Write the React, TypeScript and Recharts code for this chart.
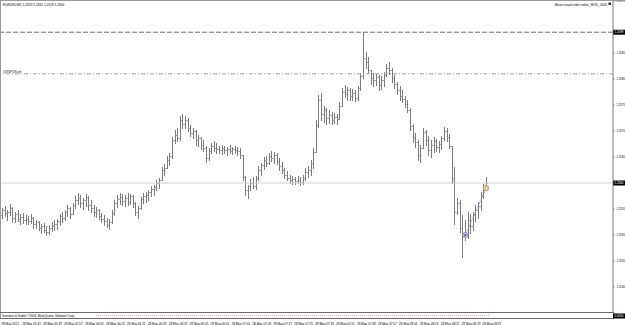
import React from 'react';
import { ComposedChart, Bar, XAxis, YAxis, ReferenceLine, ReferenceDot } from 'recharts';

const symbolHeader = 'EURUSD,M1  1.2559 1.2561 1.2559 1.2560';
const expertName = 'Moon visual order editor_MOD_0000';
const refLineName = '#0T6P1R.ref';
const indicatorName = 'Investors & Stable ©2004, MetaQuotes Software Corp.';

const tickLabels = [
  '28 May 2012', '28 May 05:41', '28 May 05:49', '28 May 05:57', '28 May 06:05', '28 May 06:13',
  '28 May 06:21', '28 May 06:29', '28 May 06:37', '28 May 06:45', '28 May 06:53', '28 May 07:01',
  '28 May 07:09', '28 May 07:17', '28 May 07:25', '28 May 07:33', '28 May 07:41', '28 May 07:49',
  '28 May 07:57', '28 May 08:05', '28 May 08:13', '28 May 08:21', '28 May 08:29', '28 May 08:37',
];
const tickBars = [0, 8, 16, 24, 32, 40, 48, 56, 64, 72, 80, 88, 96, 104, 112, 120, 128, 136, 144, 152, 160, 168, 176, 184];

const priceTicks = [1.254, 1.2545, 1.255, 1.2555, 1.2565, 1.257, 1.2575, 1.258, 1.2585, 1.2595];
const priceDomain = [1.25352, 1.2595];

const highLevel = 1.2589;
const refLevel = 1.2581;
const bidLevel = 1.256;
const indicatorValue = '0.0000';

const trendStart = { bar: 177, price: 1.255 };
const trendEnd = { bar: 185, price: 1.2559 };

// [open, high, low, close] per M1 bar
const ohlc: [number, number, number, number][] = [
  [1.25539, 1.25552, 1.25533, 1.25548], [1.25548, 1.25556, 1.25537, 1.25542], [1.25542, 1.25548, 1.25529, 1.25544],
  [1.25544, 1.2556, 1.25539, 1.25552], [1.25552, 1.25554, 1.25525, 1.25533], [1.25533, 1.25544, 1.25525, 1.2554],
  [1.2554, 1.25548, 1.25527, 1.25531], [1.25531, 1.2554, 1.25521, 1.25535], [1.25535, 1.25542, 1.25523, 1.25529],
  [1.25529, 1.25539, 1.25521, 1.25531], [1.25531, 1.25537, 1.25521, 1.25527], [1.25527, 1.2554, 1.25523, 1.25533],
  [1.25533, 1.25535, 1.25514, 1.25521], [1.25521, 1.25529, 1.25514, 1.25525], [1.25525, 1.25527, 1.2551, 1.25514],
  [1.25514, 1.25521, 1.25504, 1.25517], [1.25517, 1.25523, 1.25506, 1.2551], [1.2551, 1.25517, 1.255, 1.25506],
  [1.25506, 1.25519, 1.25502, 1.25514], [1.25514, 1.25525, 1.25508, 1.25517], [1.25517, 1.25529, 1.2551, 1.25521],
  [1.25521, 1.25531, 1.25512, 1.25527], [1.25527, 1.2554, 1.25519, 1.25537], [1.25537, 1.25544, 1.25525, 1.25533],
  [1.25533, 1.25548, 1.25529, 1.25544], [1.25544, 1.25558, 1.25537, 1.25552], [1.25552, 1.25554, 1.25533, 1.2554],
  [1.2554, 1.25562, 1.2554, 1.25558], [1.25558, 1.25575, 1.25552, 1.25567], [1.25567, 1.25581, 1.2556, 1.25571],
  [1.25571, 1.25577, 1.25554, 1.25562], [1.25562, 1.25571, 1.2555, 1.25567], [1.25567, 1.25579, 1.25556, 1.25573],
  [1.25573, 1.25575, 1.25548, 1.25558], [1.25558, 1.25567, 1.25544, 1.25552], [1.25552, 1.25558, 1.25537, 1.25544],
  [1.25544, 1.25554, 1.25535, 1.25548], [1.25548, 1.2555, 1.25531, 1.25537], [1.25537, 1.25542, 1.25525, 1.25531],
  [1.25531, 1.25539, 1.25519, 1.25527], [1.25527, 1.25533, 1.25515, 1.25519], [1.25519, 1.25531, 1.25512, 1.25525],
  [1.25525, 1.25548, 1.25523, 1.25542], [1.25542, 1.25567, 1.25539, 1.25562], [1.25562, 1.25577, 1.25554, 1.25569],
  [1.25569, 1.25581, 1.2556, 1.25573], [1.25573, 1.25579, 1.25558, 1.25565], [1.25565, 1.25577, 1.25556, 1.25571],
  [1.25571, 1.25581, 1.25558, 1.25564], [1.25564, 1.25579, 1.2556, 1.25575], [1.25575, 1.25577, 1.25554, 1.25562],
  [1.25562, 1.25564, 1.25539, 1.25544], [1.25544, 1.25556, 1.25533, 1.25552], [1.25552, 1.25573, 1.2555, 1.25569],
  [1.25569, 1.25581, 1.25562, 1.25575], [1.25575, 1.25583, 1.25564, 1.25577], [1.25577, 1.25587, 1.25567, 1.25583],
  [1.25583, 1.25594, 1.25575, 1.25589], [1.25589, 1.25596, 1.25577, 1.25592], [1.25592, 1.25606, 1.25587, 1.256],
  [1.256, 1.2561, 1.2559, 1.25606], [1.25606, 1.25631, 1.25606, 1.25625], [1.25625, 1.25637, 1.25615, 1.25629],
  [1.25629, 1.25652, 1.25629, 1.25644], [1.25644, 1.25658, 1.25635, 1.25652], [1.25652, 1.25689, 1.25648, 1.25683],
  [1.25683, 1.25702, 1.25677, 1.25692], [1.25692, 1.25706, 1.25681, 1.25687], [1.25687, 1.25729, 1.25683, 1.25721],
  [1.25721, 1.25733, 1.25706, 1.25714], [1.25714, 1.25729, 1.25706, 1.25721], [1.25721, 1.25725, 1.257, 1.25706],
  [1.25706, 1.25712, 1.2569, 1.25696], [1.25696, 1.25706, 1.25687, 1.257], [1.257, 1.25702, 1.25673, 1.25683],
  [1.25683, 1.25692, 1.25671, 1.25687], [1.25687, 1.25689, 1.25665, 1.25673], [1.25673, 1.25683, 1.25662, 1.25667],
  [1.25667, 1.25671, 1.2564, 1.25648], [1.25648, 1.25667, 1.25644, 1.25662], [1.25662, 1.25677, 1.25658, 1.25671],
  [1.25671, 1.25681, 1.25662, 1.25667], [1.25667, 1.25677, 1.25658, 1.25665], [1.25665, 1.25671, 1.25658, 1.25664],
  [1.25664, 1.25673, 1.25656, 1.25667], [1.25667, 1.25671, 1.25658, 1.25664], [1.25664, 1.25669, 1.25654, 1.25665],
  [1.25665, 1.25673, 1.25658, 1.25662], [1.25662, 1.25669, 1.25656, 1.25665], [1.25665, 1.25671, 1.25658, 1.25664],
  [1.25664, 1.25669, 1.25654, 1.25662], [1.25662, 1.25667, 1.25648, 1.25654], [1.25654, 1.25654, 1.25606, 1.25612],
  [1.25612, 1.25613, 1.25577, 1.25587], [1.25587, 1.25596, 1.25571, 1.25594], [1.25594, 1.25608, 1.25587, 1.256],
  [1.256, 1.25612, 1.2559, 1.25594], [1.25594, 1.25613, 1.25589, 1.2561], [1.2561, 1.25633, 1.25606, 1.25625],
  [1.25625, 1.25639, 1.25615, 1.25635], [1.25635, 1.2565, 1.25627, 1.25644], [1.25644, 1.25652, 1.25633, 1.25639],
  [1.25639, 1.25658, 1.25637, 1.25652], [1.25652, 1.25662, 1.25642, 1.25648], [1.25648, 1.2566, 1.25639, 1.25654],
  [1.25654, 1.25658, 1.25637, 1.25642], [1.25642, 1.25648, 1.25625, 1.25633], [1.25633, 1.2564, 1.25619, 1.25625],
  [1.25625, 1.25629, 1.2561, 1.25615], [1.25615, 1.25623, 1.25606, 1.2561], [1.2561, 1.25615, 1.256, 1.25606],
  [1.25606, 1.25613, 1.25598, 1.25608], [1.25608, 1.25612, 1.25598, 1.25604], [1.25604, 1.25613, 1.256, 1.25606],
  [1.25606, 1.25612, 1.25596, 1.25602], [1.25602, 1.25615, 1.25598, 1.2561], [1.2561, 1.25629, 1.25606, 1.25621],
  [1.25621, 1.25633, 1.25612, 1.25625], [1.25625, 1.25644, 1.25615, 1.25639], [1.25639, 1.25667, 1.25629, 1.2566],
  [1.2566, 1.25721, 1.2566, 1.25712], [1.25712, 1.25769, 1.25708, 1.2576], [1.2576, 1.25773, 1.25721, 1.25733],
  [1.25733, 1.25748, 1.25717, 1.2574], [1.2574, 1.25744, 1.25714, 1.25725], [1.25725, 1.2574, 1.25715, 1.25731],
  [1.25731, 1.25737, 1.25714, 1.25721], [1.25721, 1.25735, 1.25715, 1.25727], [1.25727, 1.25733, 1.25714, 1.25723],
  [1.25723, 1.25756, 1.25723, 1.25748], [1.25748, 1.25783, 1.25748, 1.25775], [1.25775, 1.25789, 1.25765, 1.25771],
  [1.25771, 1.25785, 1.2576, 1.25779], [1.25779, 1.25783, 1.2576, 1.25767], [1.25767, 1.25781, 1.2576, 1.25773],
  [1.25773, 1.25779, 1.25758, 1.25764], [1.25764, 1.25787, 1.2576, 1.25783], [1.25783, 1.25812, 1.25779, 1.25806],
  [1.25806, 1.2589, 1.25802, 1.2584], [1.2584, 1.25852, 1.25821, 1.25833], [1.25833, 1.25842, 1.25814, 1.25817],
  [1.25817, 1.25817, 1.2579, 1.25802], [1.25802, 1.25812, 1.25787, 1.25798], [1.25798, 1.2581, 1.25789, 1.25804],
  [1.25804, 1.25808, 1.25779, 1.25789], [1.25789, 1.25806, 1.25781, 1.25798], [1.25798, 1.25814, 1.25787, 1.25808],
  [1.25808, 1.25829, 1.25806, 1.25821], [1.25821, 1.25833, 1.2581, 1.25817], [1.25817, 1.25821, 1.25794, 1.25802],
  [1.25802, 1.25808, 1.25783, 1.2579], [1.2579, 1.25794, 1.25771, 1.25779], [1.25779, 1.25787, 1.2576, 1.25767],
  [1.25767, 1.25779, 1.25756, 1.25762], [1.25762, 1.25767, 1.25746, 1.25752], [1.25752, 1.2576, 1.25737, 1.2574],
  [1.2574, 1.25744, 1.25702, 1.2571], [1.2571, 1.25714, 1.25679, 1.25689], [1.25689, 1.25696, 1.25669, 1.25679],
  [1.25679, 1.25683, 1.25644, 1.25654], [1.25654, 1.25673, 1.2564, 1.25667], [1.25667, 1.25706, 1.25667, 1.25698],
  [1.25698, 1.25702, 1.25673, 1.25683], [1.25683, 1.2569, 1.25654, 1.25664], [1.25664, 1.25683, 1.2565, 1.25673],
  [1.25673, 1.25689, 1.2566, 1.25681], [1.25681, 1.25685, 1.25662, 1.25669], [1.25669, 1.25681, 1.2566, 1.25675],
  [1.25675, 1.2569, 1.25665, 1.25687], [1.25687, 1.25708, 1.25683, 1.257], [1.257, 1.25706, 1.25681, 1.25689],
  [1.25689, 1.25694, 1.25667, 1.25671], [1.25671, 1.25671, 1.256, 1.2561], [1.2561, 1.25631, 1.25521, 1.25544],
  [1.25544, 1.25571, 1.2554, 1.25562], [1.25562, 1.25567, 1.25506, 1.25514], [1.25514, 1.25539, 1.25458, 1.25504],
  [1.25504, 1.25529, 1.2549, 1.25498], [1.25498, 1.25544, 1.25494, 1.25529], [1.25529, 1.2554, 1.25504, 1.25517],
  [1.25517, 1.25544, 1.2551, 1.25539], [1.25539, 1.25558, 1.25527, 1.25548], [1.25548, 1.25564, 1.25533, 1.25556],
  [1.25556, 1.25583, 1.25548, 1.25577], [1.25577, 1.25598, 1.25571, 1.2559], [1.2559, 1.25612, 1.25589, 1.256],
];

const totalSlots = 234;

const data = Array.from({ length: totalSlots }, (_, i) => {
  const b = ohlc[i];
  return b
    ? { i, open: b[0], high: b[1], low: b[2], close: b[3], range: [b[2], b[1]] }
    : { i };
});

const FONT = '"Liberation Sans", Arial, sans-serif';
const BAR_COLOR = '#7c7c7c';
const TICK_COLOR = '#a8a8a8';

const OhlcShape = (props: any) => {
  const { x, y, width, height, payload } = props;
  if (!payload || payload.high == null) return null;
  const top = Math.min(y, y + height);
  const bot = Math.max(y, y + height);
  const span = payload.high - payload.low;
  const py = (v: number) => (span > 0 ? top + ((payload.high - v) / span) * (bot - top) : top);
  const px = Math.round(x + width / 2 - 0.5);
  const t = Math.round(top);
  const b = Math.round(bot);
  const oy = Math.round(py(payload.open));
  const cy = Math.round(py(payload.close));
  return (
    <g shapeRendering="crispEdges">
      <rect x={px} y={t} width={1} height={Math.max(1, b - t + 1)} fill={BAR_COLOR} />
      <rect x={px - 1} y={oy} width={1} height={1} fill={TICK_COLOR} />
      <rect x={px + 1} y={cy} width={1} height={1} fill={TICK_COLOR} />
    </g>
  );
};

const XTick = (props: any) => {
  const { x, y, payload } = props;
  const idx = tickBars.indexOf(payload.value);
  if (idx < 0) return null;
  return (
    <text x={x - 1} y={y + 11} fontSize={3.1} fontFamily={FONT} fill="#000">
      {tickLabels[idx]}
    </text>
  );
};

const YTick = (props: any) => {
  const { x, y, payload } = props;
  return (
    <text
      x={x}
      y={y + 1.2}
      fontSize={3.2}
      fontFamily={FONT}
      fill="#000"
      textLength={8.5}
      lengthAdjust="spacingAndGlyphs"
    >
      {Number(payload.value).toFixed(4)}
    </text>
  );
};

const AxisBox = (text: string) => (props: any) => {
  const vb = props.viewBox || {};
  const ax = (vb.x || 0) + (vb.width || 0);
  const yy = vb.y || 0;
  return (
    <g>
      <rect x={ax} y={yy - 2.5} width={12} height={5} fill="#000" />
      <text
        x={ax + 1.5}
        y={yy + 1.2}
        fontSize={3.2}
        fontFamily={FONT}
        fill="#fff"
        textLength={9}
        lengthAdjust="spacingAndGlyphs"
      >
        {text}
      </text>
    </g>
  );
};

export default function App() {
  return (
    <div style={{ position: 'absolute', left: 0, top: 0, width: 625, height: 325, background: '#fff' }}>
      <ComposedChart
        width={625}
        height={325}
        data={data}
        margin={{ top: 1, right: 0, bottom: 0, left: 1 }}
        barCategoryGap={0}
        barGap={0}
      >
        <XAxis
          dataKey="i"
          type="category"
          ticks={tickBars}
          interval={0}
          height={13}
          axisLine={false}
          tickLine={false}
          tickSize={0}
          tick={<XTick />}
        />
        <YAxis
          orientation="right"
          width={12}
          domain={priceDomain}
          allowDataOverflow
          ticks={priceTicks}
          interval={0}
          axisLine={{ stroke: '#7a7a7a' }}
          tickLine={{ stroke: '#7a7a7a' }}
          tickSize={1.5}
          tick={<YTick />}
        />
        <ReferenceLine y={bidLevel} stroke="#cfcfcf" strokeWidth={1} label={AxisBox(bidLevel.toFixed(4))} />
        <ReferenceLine y={highLevel} stroke="#707070" strokeWidth={1} strokeDasharray="5 2" label={AxisBox(highLevel.toFixed(4))} />
        <ReferenceLine y={refLevel} stroke="#97a897" strokeWidth={1} strokeDasharray="4 2 1 2" />
        <Bar dataKey="range" shape={<OhlcShape />} isAnimationActive={false} />
        <ReferenceLine
          segment={[{ x: trendStart.bar, y: trendStart.price }, { x: trendEnd.bar, y: trendEnd.price }]}
          stroke="#7880c8"
          strokeDasharray="1 1"
          strokeWidth={1}
        />
        <ReferenceDot x={trendStart.bar} y={trendStart.price} r={2.6} fill="#c4c8e4" stroke="#7880c8" strokeWidth={0.8} />
        <ReferenceDot x={trendStart.bar} y={trendStart.price} r={0.9} fill="#1a1a7a" stroke="none" />
        <ReferenceDot x={trendEnd.bar} y={trendEnd.price} r={2.8} fill="#ddd2ac" stroke="#a89a68" strokeWidth={0.8} />
      </ComposedChart>
      <svg
        width={625}
        height={325}
        style={{ position: 'absolute', left: 0, top: 0, pointerEvents: 'none' }}
      >
        <line x1={0} x2={625} y1={0.5} y2={0.5} stroke="#9a9a9a" />
        <line x1={0.5} x2={0.5} y1={0} y2={319} stroke="#9a9a9a" />
        <text x={3} y={5.5} fontSize={3.2} fontFamily={FONT} fill="#000">{symbolHeader}</text>
        <text x={607} y={5.5} fontSize={3.2} fontFamily={FONT} fill="#000" textAnchor="end">{expertName}</text>
        <rect x={608.5} y={2.5} width={2.5} height={2.5} fill="#333" />
        <text x={3} y={73} fontSize={3.2} fontFamily={FONT} fill="#000">{refLineName}</text>
        <line x1={0} x2={613} y1={312.5} y2={312.5} stroke="#6a6a6a" />
        <line x1={0} x2={613} y1={318.5} y2={318.5} stroke="#6a6a6a" />
        <line x1={613.5} x2={613.5} y1={312} y2={319} stroke="#7a7a7a" />
        <text x={2} y={317.2} fontSize={3} fontFamily={FONT} fill="#000">{indicatorName}</text>
        <line x1={96} x2={489} y1={315.5} y2={315.5} stroke="#e0a4b4" strokeDasharray="1 1" />
        <rect x={613} y={313.5} width={12} height={5} fill="#000" />
        <text
          x={614.5}
          y={317.2}
          fontSize={3.2}
          fontFamily={FONT}
          fill="#fff"
          textLength={9}
          lengthAdjust="spacingAndGlyphs"
        >
          {indicatorValue}
        </text>
      </svg>
    </div>
  );
}
